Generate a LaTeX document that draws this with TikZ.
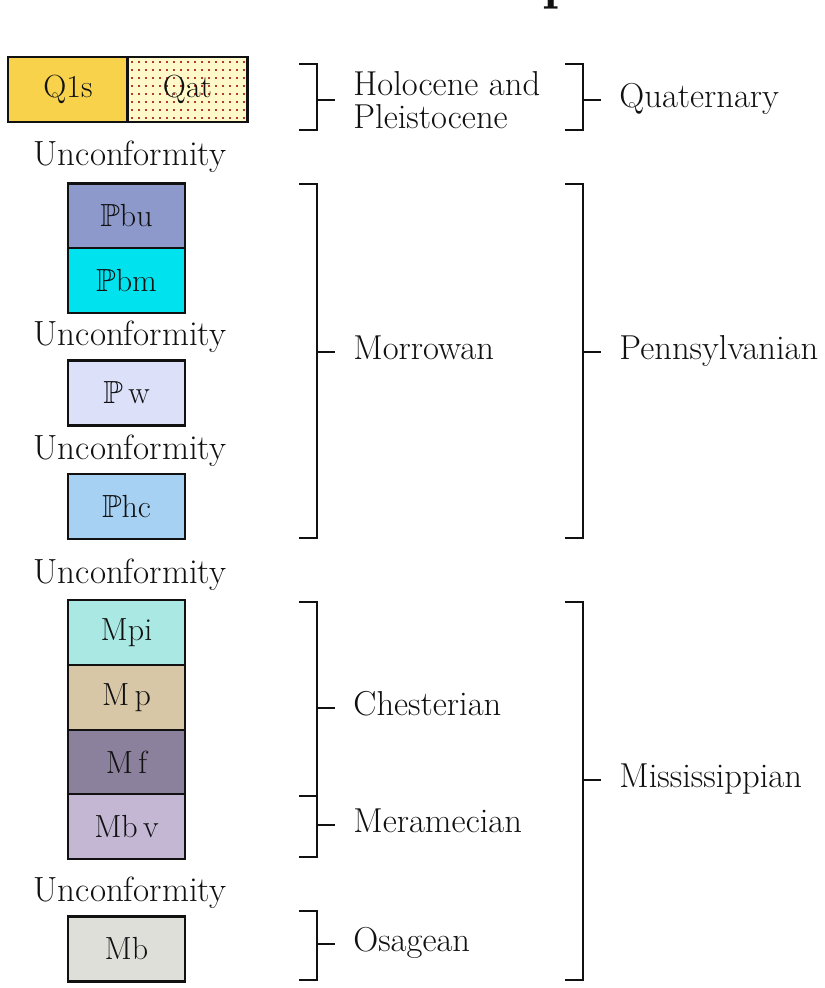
\documentclass[tikz,border=0pt]{standalone}
\usepackage{fontspec}
\usepackage{amsmath,amssymb}
\usepackage{xcolor}
\definecolor{gsink}{HTML}{111111}
\definecolor{gsqls}{HTML}{F8D24B}
\definecolor{gsqat}{HTML}{FFF9C9}
\definecolor{gsdot}{HTML}{B33A2A}
\definecolor{gspbu}{HTML}{8D99CB}
\definecolor{gspbm}{HTML}{00E3EF}
\definecolor{gspw}{HTML}{DCE0F9}
\definecolor{gsphc}{HTML}{A6D1F3}
\definecolor{gsmpi}{HTML}{AAE8E3}
\definecolor{gsmp}{HTML}{D8C7A7}
\definecolor{gsmf}{HTML}{8B819D}
\definecolor{gsmbv}{HTML}{C3B7D4}
\definecolor{gsmb}{HTML}{DFDFD9}
\usepackage{tikz}
\usetikzlibrary{positioning}
\tikzset{
  gsunit/.style ={rectangle, draw=gsink, line width=1.2pt, minimum width=58.5pt,
                  minimum height=32.5pt, inner sep=0pt, text=gsink,
                  font=\fontsize{16}{19}\selectfont},
  gsunc/.style  ={inner sep=0pt, text=gsink, font=\fontsize{17.5}{20}\selectfont},
  gslbl/.style  ={inner sep=0pt, anchor=west, text=gsink, text height=0.85em,
                  text depth=0.1em, font=\fontsize{17.3}{16.5}\selectfont},
  gsbrk/.style  ={draw=gsink, line width=1.2pt},
  gstitle/.style={inner sep=0pt, text=gsink, font=\fontsize{27.5}{30}\selectfont\bfseries},
}
\newcommand{\gsbracket}[7][]{%
  \draw[gsbrk] (#2-18,#3) -| (#2,#4) -- ++(-18,0);
  \draw[gsbrk] (#2,#5) -- ++(18,0) coordinate (#6t);
  \node[gslbl, #1, right=9pt of #6t] (#6) {#7};}

\begin{document}
\begin{tikzpicture}[x=0.5pt, y=-0.5pt]
  \useasboundingbox[fill=white] (0,0) rectangle (824,988);
  \begin{scope}
    \clip (0,0) rectangle (824,988);
    \node[gstitle, anchor=base] (title) at (400,-1) {Correlation of Map Units};
  \end{scope}
  \node[gsunit, fill=gsqls, minimum width=60pt] (qls) at (68,89.5) {Q1s};
  \node[gsunit, fill=gsqat, minimum width=60pt,
        path picture={\foreach \i in {0,...,16}{\foreach \j in {0,...,7}{
          \fill[gsdot] (path picture bounding box.north west) ++(\i*7+3,\j*8+4)
            rectangle ++(2,2);}}}]
    (qat) at (187.5,89.5) {Qat};
  \foreach \n/\y/\c/\t in {pbu/216/gspbu/{$\mathbb{P}$bu}, pbm/280.5/gspbm/{$\mathbb{P}$bm},
      pw/393/gspw/{$\mathbb{P}$\,w}, phc/506.5/gsphc/{$\mathbb{P}$hc},
      mpi/632.5/gsmpi/Mpi, mp/697.5/gsmp/{M\,p}, mf/762.5/gsmf/{M\,f},
      mbv/826.5/gsmbv/{Mb\,v}, mb/949/gsmb/Mb}{
    \node[gsunit, fill=\c] (\n) at (126.5,\y) {\t};
  }
  \foreach \k/\y in {1/157, 2/337, 3/451, 4/575, 5/893}{
    \node[gsunc] (unc\k) at (130,\y) {Unconformity};
  }
  \gsbracket[align=left, text height={}, text depth={}]{317}{64}{130}{100}{hol}{Holocene and\\Pleistocene}
  \gsbracket{583}{64}{130}{100}{qua}{Quaternary}
  \gsbracket{317}{184}{538}{352}{mor}{Morrowan}
  \gsbracket{583}{184}{538}{352}{pen}{Pennsylvanian}
  \gsbracket{317}{602}{796}{708}{che}{Chesterian}
  \gsbracket{317}{796}{857}{825}{mer}{Meramecian}
  \gsbracket{317}{911}{980}{944}{osa}{Osagean}
  \gsbracket{583}{602}{980}{780}{mis}{Mississippian}
\end{tikzpicture}
\end{document}
